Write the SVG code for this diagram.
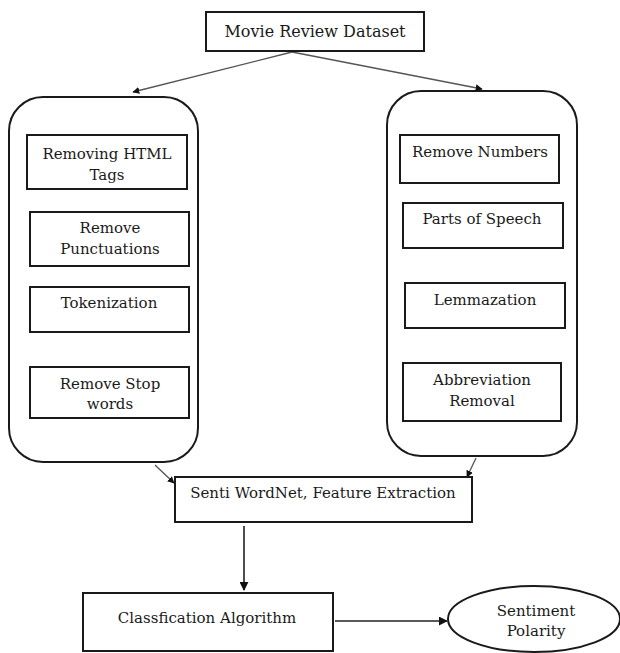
<svg xmlns="http://www.w3.org/2000/svg" width="620" height="653" viewBox="0 0 620 653">
<style>
.box{fill:#fff;stroke:#1a1a1a;stroke-width:2}
.cont{fill:#fff;stroke:#1a1a1a;stroke-width:2}
.t{font-family:"DejaVu Serif","Liberation Serif",serif;font-size:15px;fill:#1a1a1a;text-anchor:middle}
.c{stroke:#555;stroke-width:1.3;fill:none}
.cd{stroke:#222;stroke-width:1.6;fill:none}
</style>
<defs>
<marker id="ah" viewBox="0 0 10 10" refX="9" refY="5" markerWidth="7" markerHeight="7" orient="auto" markerUnits="userSpaceOnUse">
<path d="M0,0 L10,5 L0,10 z" fill="#111"/>
</marker>
<marker id="ah2" viewBox="0 0 10 10" refX="9" refY="5" markerWidth="9" markerHeight="9" orient="auto" markerUnits="userSpaceOnUse">
<path d="M0,0 L10,5 L0,10 z" fill="#111"/>
</marker>
</defs>
<rect width="620" height="653" fill="#fff"/>
<g id="left-group"><rect class="cont" x="9" y="97" width="189" height="365" rx="34" ry="34"/></g>
<g id="right-group"><rect class="cont" x="387" y="91" width="190" height="365" rx="34" ry="34"/></g>
<g id="connectors">
<line class="c" x1="292" y1="52" x2="133" y2="92" marker-end="url(#ah)"/>
<line class="c" x1="292" y1="52" x2="482" y2="89" marker-end="url(#ah)"/>
<line class="c" x1="155" y1="465" x2="174" y2="483" marker-end="url(#ah)"/>
<line class="c" x1="476" y1="458" x2="467" y2="477" marker-end="url(#ah)"/>
<line class="cd" x1="244" y1="526" x2="244" y2="590" marker-end="url(#ah2)"/>
<line class="cd" x1="335" y1="621" x2="447" y2="621" marker-end="url(#ah2)"/>
</g>
<g id="movie-review-dataset"><rect class="box" x="206" y="12" width="218" height="39"/><text class="t" x="315" y="37" style="font-size:16px">Movie Review Dataset</text></g>
<g id="removing-html-tags"><rect class="box" x="27" y="135" width="160" height="54"/><text class="t" x="107" y="159">Removing HTML</text><text class="t" x="107" y="180">Tags</text></g>
<g id="remove-punctuations"><rect class="box" x="30" y="212" width="159" height="54"/><text class="t" x="110" y="233">Remove</text><text class="t" x="110" y="254">Punctuations</text></g>
<g id="tokenization"><rect class="box" x="30" y="287" width="159" height="45"/><text class="t" x="109" y="308">Tokenization</text></g>
<g id="remove-stop-words"><rect class="box" x="30" y="367" width="159" height="51"/><text class="t" x="110" y="389">Remove Stop</text><text class="t" x="110" y="409">words</text></g>
<g id="remove-numbers"><rect class="box" x="400" y="135" width="159" height="48"/><text class="t" x="480" y="157">Remove Numbers</text></g>
<g id="parts-of-speech"><rect class="box" x="403" y="203" width="160" height="45"/><text class="t" x="482" y="224">Parts of Speech</text></g>
<g id="lemmazation"><rect class="box" x="405" y="283" width="160" height="45"/><text class="t" x="485" y="305">Lemmazation</text></g>
<g id="abbreviation-removal"><rect class="box" x="403" y="363" width="158" height="58"/><text class="t" x="482" y="385">Abbreviation</text><text class="t" x="482" y="406">Removal</text></g>
<g id="senti-wordnet"><rect class="box" x="175" y="477" width="297" height="45"/><text class="t" x="323" y="498">Senti WordNet, Feature Extraction</text></g>
<g id="classification"><rect class="box" x="83" y="593" width="250" height="58"/><text class="t" x="207" y="623">Classfication Algorithm</text></g>
<g id="sentiment-polarity"><ellipse class="box" cx="534" cy="619" rx="86" ry="33"/><text class="t" x="536" y="616">Sentiment</text><text class="t" x="536" y="636">Polarity</text></g>
</svg>
